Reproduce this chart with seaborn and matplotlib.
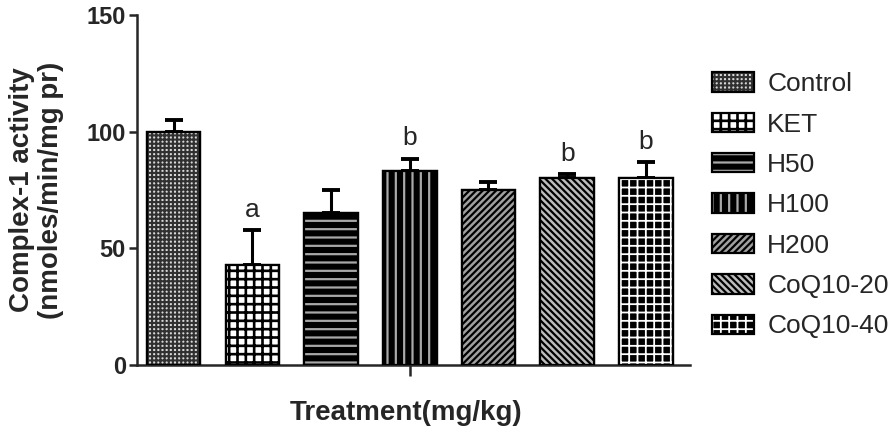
import pandas as pd
import seaborn as sns
import matplotlib.pyplot as plt
from matplotlib.patches import Rectangle, Patch
from matplotlib.legend_handler import HandlerPatch

# values
groups = ['Control', 'KET', 'H50', 'H100', 'H200', 'CoQ10-20', 'CoQ10-40']
means = [100.0, 43.0, 65.0, 83.0, 75.0, 80.0, 80.0]
errors = [5.0, 15.0, 10.0, 5.5, 3.5, 2.0, 7.0]
letters = ['', 'a', '', 'b', '', 'b', 'b']

# (face colour, hatch, hatch colour, hatch linewidth)
styles = {
    'Control': ('#d8d8d8', '++++', '#303030', 1.5),
    'KET': ('white', '++', 'black', 1.9),
    'H50': ('black', '--', '#a8a8a8', 1.6),
    'H100': ('black', '||', '#a8a8a8', 1.6),
    'H200': ('#a0a0a0', '/////', 'black', 1.6),
    'CoQ10-20': ('#bdbdbd', '\\\\\\\\\\', 'black', 1.6),
    'CoQ10-40': ('black', '++', 'white', 1.3),
}


class HatchHandler(HandlerPatch):
    # keep the per-patch hatch linewidth in the legend
    def update_prop(self, legend_handle, orig_handle, legend):
        super().update_prop(legend_handle, orig_handle, legend)
        legend_handle.set_hatch_linewidth(orig_handle.get_hatch_linewidth())


df = pd.DataFrame({'Group': groups, 'Mean': means, 'SEM': errors})

sns.set_style('ticks')
plt.rcParams['font.family'] = ['Liberation Sans', 'DejaVu Sans']

fig = plt.figure(figsize=(8.96, 4.33), dpi=100)
ax = fig.add_axes([0.153, 0.157, 0.617, 0.808])

sns.barplot(data=df, x='Group', y='Mean', order=groups, errorbar=None,
            width=0.68, color='white', edgecolor='black', linewidth=1.6,
            ax=ax, zorder=3)

handles = []
for patch, name in zip(ax.patches[:len(groups)], groups):
    face, hatch, hcol, hlw = styles[name]
    # hatched fill laid over the seaborn bar, same geometry
    fill = Rectangle(patch.get_xy(), patch.get_width(), patch.get_height(),
                     facecolor=face, edgecolor=hcol, hatch=hatch, linewidth=0,
                     zorder=3.5)
    fill.set_hatch_linewidth(hlw)
    ax.add_patch(fill)
    outline = Rectangle(patch.get_xy(), patch.get_width(), patch.get_height(),
                        fill=False, edgecolor='black', linewidth=1.6, zorder=4)
    ax.add_patch(outline)

    h = Patch(facecolor=face, edgecolor=hcol, hatch=hatch, linewidth=0)
    h.set_hatch_linewidth(hlw)
    handles.append((h, Patch(fill=False, edgecolor='black', linewidth=1.6)))

xs = range(len(groups))
ax.errorbar(xs, means, yerr=[[0] * len(errors), errors], fmt='none',
            ecolor='black', elinewidth=2.2, capsize=6.5, capthick=2.8, zorder=2)

for x, m, e, t in zip(xs, means, errors, letters):
    if t:
        ax.text(x, m + e + 3.5, t, ha='center', va='bottom', fontsize=19)

ax.set_ylim(0, 150)
ax.set_xlim(-0.465, 6.56)
ax.set_yticks([0, 50, 100, 150])
ax.set_xticks([3])
ax.set_xticklabels([''])
ax.tick_params(axis='y', length=6, width=1.8, labelsize=17, pad=2)
ax.tick_params(axis='x', length=8, width=1.8)
for lab in ax.get_yticklabels():
    lab.set_fontweight('bold')
for s in ['left', 'bottom']:
    ax.spines[s].set_linewidth(1.8)
sns.despine(ax=ax)

ax.set_ylabel('Complex-1 activity\n(nmoles/min/mg pr)', fontsize=20,
              fontweight='bold', labelpad=16, linespacing=1.15)
ax.set_xlabel('Treatment(mg/kg)', fontsize=20, fontweight='bold')
ax.xaxis.set_label_coords(0.487, -0.1)

fig.legend(handles, groups, loc='upper left', bbox_to_anchor=(0.768, 0.888),
           frameon=False, fontsize=19, handlelength=1.6, handleheight=0.75,
           labelspacing=0.62, handletextpad=0.5,
           handler_map={Patch: HatchHandler()})

plt.savefig('out.png', dpi=100)
